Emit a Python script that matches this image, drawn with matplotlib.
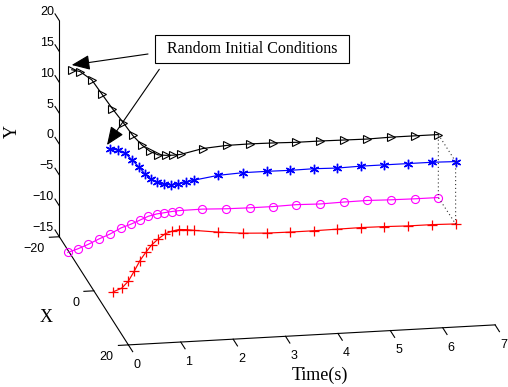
import matplotlib
matplotlib.use('Agg')
import matplotlib.pyplot as plt
from mpl_toolkits.mplot3d import proj3d
from matplotlib.patches import Rectangle, FancyArrowPatch
import numpy as np

# ---------------- data ----------------
t = [0, 0.16, 0.33, 0.48, 0.64, 0.80, 0.94, 1.09, 1.22, 1.36, 1.50, 1.64, 1.78,
     2.23, 2.69, 3.14, 3.59, 4.03, 4.48, 4.93, 5.38, 5.84, 6.29, 6.74]

x_black = [-12.8, -12.9, -11.2, -10.0, -8.7, -7.2, -6.0, -5.35, -4.5, -4.1, -4.0, -3.9, -3.8,
           -4.6, -4.8, -4.9, -5, -5, -5, -5, -5, -5, -5, -5]
y_black = [15.2, 14.8, 14.1, 12.3, 10.4, 8.7, 7.1, 5.8, 5.05, 4.6, 4.5, 4.5, 4.6,
           5.0, 5.2, 5.2, 5.1, 5.0, 5.0, 4.95, 4.9, 5.0, 5.0, 5.0]

x_blue = [9.4, 9.3, 8.2, 7.6, 6.8, 5.4, 4.4, 3.7, 3.6, 3.3, 3.4, 3.8, 4.1,
          4.4, 4.6, 4.8, 4.9, 5, 5, 5, 5, 5, 5, 5]
y_blue = [12.1, 11.8, 10.7, 9.3, 7.7, 5.9, 4.6, 3.7, 3.3, 3.0, 3.1, 3.5, 3.9,
          4.6, 4.9, 5.0, 5.0, 5.1, 5.0, 5.1, 5.1, 5.1, 5.1, 5.0]

x_magenta = [-15.1, -14.2, -13.2, -11.6, -10.05, -8.5, -7.0, -6.3, -5.5, -4.85, -4.7, -4.65, -4.5,
             -4.8, -4.9, -5, -5, -5, -5, -5, -5, -5, -5, -5]
y_magenta = [-15.4, -14.5, -13.4, -11.9, -10.5, -8.9, -7.7, -6.8, -5.9, -5.3, -5.1, -4.95, -4.8,
             -4.9, -5.1, -5.2, -5.2, -5.1, -5.2, -5.1, -5.05, -5.15, -5.2, -5.2]

x_red = [11.3, 11.3, 10.0, 8.9, 7.3, 5.8, 5.0, 4.3, 4.2, 3.85, 3.8, 4.0, 4.2,
         4.4, 4.6, 4.8, 4.9, 5, 5, 5, 5, 5, 5, 5]
y_red = [-10.2, -9.7, -9.2, -8.1, -7.2, -6.6, -5.8, -5.2, -4.5, -4.3, -4.1, -4.1, -4.2,
         -4.6, -4.9, -5.0, -5.0, -4.95, -4.9, -4.85, -4.9, -5.0, -5.0, -5.1]

x_ticks = [-20, 0, 20]
t_ticks = [0, 1, 2, 3, 4, 5, 6, 7]
y_ticks = [-15, -10, -5, 0, 5, 10, 15, 20]
annotation_text = 'Random Initial Conditions'

# ---------------- figure ----------------
W, H = 508, 387
fig = plt.figure(figsize=(W / 100, H / 100), dpi=100)
ax = fig.add_axes([18.0 / W, 15.5 / H, 1, 1], projection='3d', proj_type='ortho')
ax.set_box_aspect((376.2, 373.0, 225.9), zoom=1.445)
ax.view_init(elev=17.0, azim=-10.57)
ax.set_xlim(-20, 20)
ax.set_ylim(0, 7)
ax.set_zlim(-15, 20)
ax.set_axis_off()

xmin, xmax = x_ticks[0], x_ticks[-1]
tmin, tmax = t_ticks[0], t_ticks[-1]
ymin, ymax = y_ticks[0], y_ticks[-1]

def line3(xs, ts, ys, **kw):
    ax.plot(xs, ts, ys, clip_on=False, **kw)

lw_ax = 0.8
# axis lines
line3([xmin, xmin], [tmin, tmin], [ymin, ymax], color='k', lw=lw_ax)
line3([xmin, xmax], [tmin, tmin], [ymin, ymin], color='k', lw=lw_ax)
line3([xmax, xmax], [tmin, tmax], [ymin, ymin], color='k', lw=lw_ax)

# tick marks
for v in y_ticks:
    line3([xmin, xmin - 2.5], [tmin, tmin], [v, v], color='k', lw=lw_ax)
for v in x_ticks:
    line3([v, v], [tmin, tmin - 0.19], [ymin, ymin], color='k', lw=lw_ax)
for v in t_ticks:
    line3([xmax, xmax + 2.5], [v, v], [ymin, ymin], color='k', lw=lw_ax)

lw = 0.85
line3(x_black, t, y_black, color='k', lw=lw, marker='>', ms=6.3, mfc='none', mec='k', mew=0.8)
line3(x_blue, t, y_blue, color='#0000ff', lw=lw, marker=(6, 2, 0), ms=6.8, mec='#0000ff', mew=1.0)
line3(x_magenta, t, y_magenta, color='#ff00ff', lw=lw, marker='o', ms=5.8, mfc='none', mec='#ff00ff', mew=0.8)
line3(x_red, t, y_red, color='#ff0000', lw=lw, marker='+', ms=7, mec='#ff0000', mew=0.9)

# final formation (dotted)
order = [(x_black, y_black), (x_blue, y_blue), (x_red, y_red), (x_magenta, y_magenta), (x_black, y_black)]
line3([p[0][-1] for p in order], [t[-1]] * len(order), [p[1][-1] for p in order],
      color='#333333', lw=0.8, ls=(0, (1, 2.5)))

# tick labels: anchor points projected to the axes' 2-D coordinates
fig.canvas.draw()
M = ax.get_proj()

def label3(x, y, z, s, **kw):
    xs, ys, _ = proj3d.proj_transform(np.array([x], float), np.array([y], float), np.array([z], float), M)
    ax.text2D(xs[0], ys[0], s, transform=ax.transData, clip_on=False, **kw)

tick_font = dict(family='Liberation Sans', size=9)
fmt = lambda v: f'{v}'.replace('-', '\u2212')
for v in y_ticks:
    label3(xmin - 3.2, tmin, v, fmt(v), ha='right', va='center', **tick_font)
for v in x_ticks:
    label3(v, tmin - 0.28, ymin - 1.9, fmt(v), ha='right', va='center', **tick_font)
for v in t_ticks:
    label3(xmax + 4.8, v, ymin - 1.1, fmt(v), ha='center', va='center', **tick_font)

def fp(px, py):
    return (px / W, 1 - py / H)

serif = dict(family='Liberation Serif', size=13)
fig.text(*fp(12, 131), 'Y', rotation=90, ha='center', va='center', **serif)
fig.text(*fp(46.5, 317), 'X', ha='center', va='center', **serif)
fig.text(*fp(320, 375), 'Time(s)', ha='center', va='center', **serif)

# annotation box + arrows
x0, y0 = fp(154.5, 63)
x1, y1 = fp(349, 35)
fig.patches.append(Rectangle((x0, y0), x1 - x0, y1 - y0, transform=fig.transFigure,
                             fill=False, ec='k', lw=0.8))
fig.text(*fp(252, 49), annotation_text, ha='center', va='center', family='Liberation Serif', size=11.5)
ap = dict(arrowstyle='-|>,head_length=0.8,head_width=0.33', color='k', lw=0.8,
          shrinkA=0, shrinkB=0, mutation_scale=14)
fig.add_artist(FancyArrowPatch(fp(148, 54), fp(71.7, 65), transform=fig.transFigure, **ap))
fig.add_artist(FancyArrowPatch(fp(159.3, 69.3), fp(107, 145), transform=fig.transFigure, **ap))

fig.savefig('out.png', dpi=100)
